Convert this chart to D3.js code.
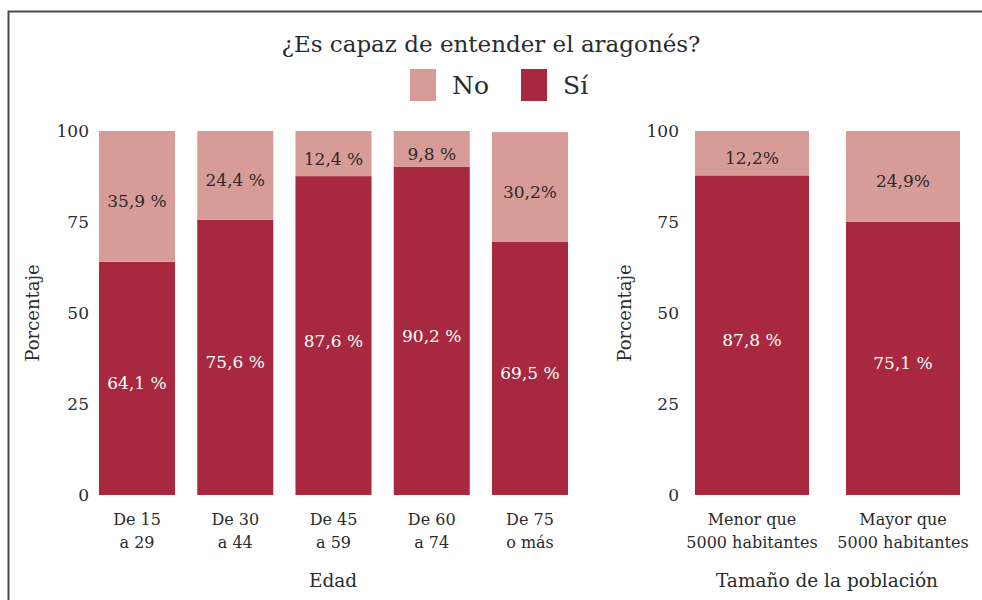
<!DOCTYPE html>
<html>
<head>
<meta charset="utf-8">
<script src="https://cdn.jsdelivr.net/npm/d3@7"></script>
<style>
  body { margin: 0; background: #fff; }
  svg text { font-family: "DejaVu Serif", serif; fill: #2b2b2b; }
</style>
</head>
<body>
<div id="chart"></div>
<script>
const WIDTH = 982;
const HEIGHT = 600;
const DARK = '#a7283f';
const LIGHT = '#d89c98';

// data
const ageCats = ['De 15|a 29', 'De 30|a 44', 'De 45|a 59', 'De 60|a 74', 'De 75|o más'];
const ageSi = [64.1, 75.6, 87.6, 90.2, 69.5];
const ageNo = [35.9, 24.4, 12.4, 9.8, 30.2];
const ageSiLabels = ['64,1 %', '75,6 %', '87,6 %', '90,2 %', '69,5 %'];
const ageNoLabels = ['35,9 %', '24,4 %', '12,4 %', '9,8 %', '30,2%'];

const popCats = ['Menor que|5000 habitantes', 'Mayor que|5000 habitantes'];
const popSi = [87.8, 75.1];
const popNo = [12.2, 24.9];
const popSiLabels = ['87,8 %', '75,1 %'];
const popNoLabels = ['12,2%', '24,9%'];

const yTicks = [0, 25, 50, 75, 100];
const legendKeys = ['No', 'Sí'];

const svg = d3.select('#chart').append('svg')
  .attr('width', WIDTH)
  .attr('height', HEIGHT);

// frame
svg.append('path')
  .attr('d', 'M8.5,600 V11.5 H982')
  .attr('fill', 'none')
  .attr('stroke', '#4a4a4a')
  .attr('stroke-width', 2);

svg.append('text')
  .attr('x', 491)
  .attr('y', 52)
  .attr('text-anchor', 'middle')
  .style('font-size', '23px')
  .text('¿Es capaz de entender el aragonés?');

const legendX = [410, 521];
legendKeys.forEach((k, i) => {
  svg.append('rect')
    .attr('x', legendX[i]).attr('y', 69)
    .attr('width', 26).attr('height', 32)
    .attr('fill', i === 0 ? LIGHT : DARK);
  svg.append('text')
    .attr('x', legendX[i] + 42).attr('y', 94)
    .style('font-size', '25px')
    .text(k);
});

const y = d3.scaleLinear().domain([0, 100]).range([495, 131]);

function drawPanel(opts) {
  const x = d3.scaleBand()
    .domain(opts.cats)
    .range(opts.range)
    .paddingInner(opts.pad)
    .paddingOuter(opts.pad / 2);

  const g = svg.append('g');

  const axis = d3.axisLeft(y).tickValues(yTicks).tickSize(0).tickPadding(0);
  const ax = g.append('g')
    .attr('transform', `translate(${opts.axisX},0)`)
    .call(axis);
  ax.select('.domain').remove();
  ax.selectAll('text')
    .attr('fill', '#2b2b2b')
    .style('font-size', '17px')
    .style('font-family', '"DejaVu Serif", serif');

  opts.cats.forEach((c, i) => {
    const si = opts.si[i];
    const no = opts.no[i];
    g.append('rect')
      .attr('x', x(c)).attr('width', x.bandwidth())
      .attr('y', y(si)).attr('height', y(0) - y(si))
      .attr('fill', DARK);
    g.append('rect')
      .attr('x', x(c)).attr('width', x.bandwidth())
      .attr('y', y(si + no)).attr('height', y(si) - y(si + no))
      .attr('fill', LIGHT);

    g.append('text')
      .attr('x', x(c) + x.bandwidth() / 2)
      .attr('y', y(si / 2) + 5)
      .attr('dy', '0.35em')
      .attr('text-anchor', 'middle')
      .style('font-size', '17px')
      .style('fill', '#fff')
      .text(opts.siLabels[i]);
    g.append('text')
      .attr('x', x(c) + x.bandwidth() / 2)
      .attr('y', y(si + no / 2) + 5)
      .attr('dy', '0.35em')
      .attr('text-anchor', 'middle')
      .style('font-size', '17px')
      .text(opts.noLabels[i]);

    const lines = c.split('|');
    lines.forEach((line, j) => {
      g.append('text')
        .attr('x', x(c) + x.bandwidth() / 2)
        .attr('y', 525 + j * 23)
        .attr('text-anchor', 'middle')
        .style('font-size', '16px')
        .text(line);
    });
  });

  g.append('text')
    .attr('transform', `translate(${opts.ylabX},313) rotate(-90)`)
    .attr('text-anchor', 'middle')
    .style('font-size', '18px')
    .text('Porcentaje');

  g.append('text')
    .attr('x', opts.titleX)
    .attr('y', 587)
    .attr('text-anchor', 'middle')
    .style('font-size', '18.5px')
    .text(opts.title);
}

drawPanel({
  cats: ageCats, si: ageSi, no: ageNo,
  siLabels: ageSiLabels, noLabels: ageNoLabels,
  range: [87.9, 579.1], pad: 0.226,
  axisX: 89, ylabX: 39, title: 'Edad', titleX: 333
});

drawPanel({
  cats: popCats, si: popSi, no: popNo,
  siLabels: popSiLabels, noLabels: popNoLabels,
  range: [676.5, 978.5], pad: 0.245,
  axisX: 679, ylabX: 631, title: 'Tamaño de la población', titleX: 827
});
</script>
</body>
</html>
